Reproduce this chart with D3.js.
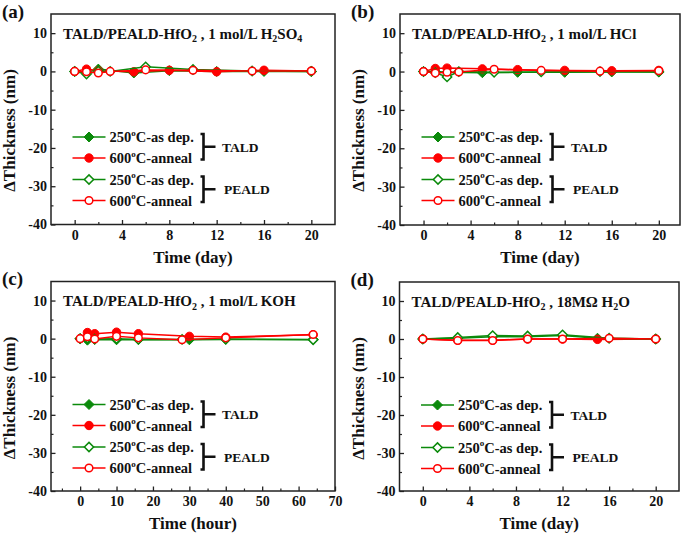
<!DOCTYPE html>
<html><head><meta charset="utf-8">
<script src="https://cdn.jsdelivr.net/npm/d3@7"></script>
<style>
body{margin:0;background:#fff;}
svg text{font-family:"Liberation Serif","Times New Roman",serif;font-weight:bold;fill:#111;}
</style></head>
<body><svg id="c" width="685" height="536"></svg>
<script>
// ---------- data ----------
const panelLabels = ["(a)", "(b)", "(c)", "(d)"];
const panelSolutions = [" , 1 mol/L H|2|SO|4|", " , 1 mol/L HCl", " , 1 mol/L KOH", " , 18M\u03A9 H|2|O"];
const xTitles = ["Time (day)", "Time (day)", "Time (hour)", "Time (day)"];
const yTicks = [10, 0, -10, -20, -30, -40];
const yMinorTicks = [5, -5, -15, -25, -35];
const xTicksDay = [0, 4, 8, 12, 16, 20];
const xMinorDay = [2, 6, 10, 14, 18];
const xTicksHour = [0, 10, 20, 30, 40, 50, 60, 70];
const xMinorHour = [-5, 5, 15, 25, 35, 45, 55, 65];
const seriesNames = ["250|o|C-as dep.", "600|o|C-anneal", "250|o|C-as dep.", "600|o|C-anneal"];
const groupNames = ["TALD", "PEALD"];

// (a) H2SO4
const aTaldT = [0, 1, 2, 5, 8, 12, 16, 20];
const aTald250 = [0, -0.3, 0.6, -0.4, 0.2, 0.0, 0.0, 0.0];
const aTald600 = [0, 0.6, 0.2, -0.1, 0.3, -0.1, 0.3, 0.1];
const aPealdT = [0, 1, 2, 3, 6, 10, 15, 20];
const aPeald250 = [0, -0.7, 0.1, 0.0, 1.2, 0.5, 0.1, 0.0];
const aPeald600 = [0, -0.1, -0.4, 0.0, 0.4, 0.3, 0.1, 0.1];
// (b) HCl
const bTaldT = [0, 1, 2, 5, 8, 12, 16, 20];
const bTald250 = [0, 0.0, -0.2, -0.3, -0.2, -0.2, -0.1, -0.1];
const bTald600 = [0, 0.8, 0.9, 0.7, 0.5, 0.3, 0.2, 0.3];
const bPealdT = [0, 1, 2, 3, 6, 10, 15, 20];
const bPeald250 = [0, -0.3, -1.4, 0.0, -0.2, -0.1, 0.0, -0.1];
const bPeald600 = [0, -0.4, -0.2, -0.1, 0.6, 0.3, 0.1, 0.2];
// (c) KOH
const cTaldT = [0, 2, 4, 10, 16, 30, 40, 64];
const cTald250 = [0, -0.4, -0.2, -0.3, -0.2, -0.3, -0.2, -0.2];
const cTald600 = [0, 1.6, 1.3, 1.7, 1.3, 0.6, 0.4, 1.0];
const cPealdT = [0, 2, 4, 10, 16, 28, 40, 64];
const cPeald250 = [0, 0.1, -0.1, 0.0, -0.2, -0.2, -0.1, -0.3];
const cPeald600 = [0, 0.5, -0.1, 0.6, 0.2, -0.3, 0.2, 1.1];
// (d) H2O
const dTaldT = [0, 3, 6, 9, 12, 15, 20];
const dTald250 = [0, 0.2, 0.6, 0.6, 0.9, 0.2, 0.0];
const dTald600 = [0, -0.3, -0.3, 0.0, 0.0, -0.1, 0.0];
const dPealdT = [0, 3, 6, 9, 12, 16, 20];
const dPeald250 = [0, 0.4, 0.9, 0.8, 1.1, 0.2, 0.0];
const dPeald600 = [0, -0.4, -0.4, 0.0, 0.0, 0.2, 0.0];

const GREEN = "#0b8a0b", RED = "#ff0000";

const panels = [
  {L:51, R:335, T:14, B:224.5, xd:[-2,22], ticks:xTicksDay, minor:xMinorDay,
   series:[[aTaldT,aTald250],[aTaldT,aTald600],[aPealdT,aPeald250],[aPealdT,aPeald600]]},
  {L:400, R:680, T:14, B:225, xd:[-2,21.8], ticks:xTicksDay, minor:xMinorDay,
   series:[[bTaldT,bTald250],[bTaldT,bTald600],[bPealdT,bPeald250],[bPealdT,bPeald600]]},
  {L:51, R:335, T:281.5, B:491, xd:[-8,70], ticks:xTicksHour, minor:xMinorHour,
   series:[[cTaldT,cTald250],[cTaldT,cTald600],[cPealdT,cPeald250],[cPealdT,cPeald600]]},
  {L:399.5, R:679, T:282, B:491, xd:[-2,22], ticks:xTicksDay, minor:xMinorDay,
   series:[[dTaldT,dTald250],[dTaldT,dTald600],[dPealdT,dPeald250],[dPealdT,dPeald600]]}
];
const styles = [
  {color:GREEN, shape:"diamond", fill:true},
  {color:RED, shape:"circle", fill:true},
  {color:GREEN, shape:"diamond", fill:false},
  {color:RED, shape:"circle", fill:false}
];

const svg = d3.select("#c");
const fmt = d => String(d);

function marker(g, x, y, st){
  let el;
  if(st.shape==="circle"){
    el = g.append("circle").attr("cx",x).attr("cy",y).attr("r", st.fill?4.2:3.8);
  } else {
    const s = st.fill?5:4.6;
    el = g.append("path").attr("d",`M${x},${y-s}L${x+s},${y}L${x},${y+s}L${x-s},${y}Z`);
  }
  el.attr("fill", st.fill?st.color:"#fff").attr("stroke", st.color).attr("stroke-width", st.fill?1:1.5);
}

panels.forEach((p, pi)=>{
  const x = d3.scaleLinear().domain(p.xd).range([p.L, p.R]);
  const y = d3.scaleLinear().domain([-40, 15]).range([p.B, p.T]);
  const g = svg.append("g");

  // minor ticks
  g.append("g").attr("transform",`translate(0,${p.B})`)
    .call(d3.axisBottom(x).tickValues(p.minor).tickSize(-2.5).tickFormat(""))
    .call(a=>{a.select(".domain").remove(); a.selectAll("line").attr("stroke","#222").attr("stroke-width",1.2);});
  g.append("g").attr("transform",`translate(${p.L},0)`)
    .call(d3.axisLeft(y).tickValues(yMinorTicks).tickSize(-2.5).tickFormat(""))
    .call(a=>{a.select(".domain").remove(); a.selectAll("line").attr("stroke","#222").attr("stroke-width",1.2);});
  // major axes
  g.append("g").attr("transform",`translate(0,${p.B})`)
    .call(d3.axisBottom(x).tickValues(p.ticks).tickSize(-4.5).tickPadding(5.5).tickFormat(fmt))
    .call(a=>{a.select(".domain").remove(); a.selectAll("line").attr("stroke","#222").attr("stroke-width",1.3);
      a.selectAll("text").attr("font-size",14).attr("font-family",null).attr("fill","#111");});
  g.append("g").attr("transform",`translate(${p.L},0)`)
    .call(d3.axisLeft(y).tickValues(yTicks).tickSize(-4.5).tickPadding(4).tickFormat(fmt))
    .call(a=>{a.select(".domain").remove(); a.selectAll("line").attr("stroke","#222").attr("stroke-width",1.3);
      a.selectAll("text").attr("font-size",14).attr("font-family",null).attr("fill","#111");});
  // frame
  g.append("rect").attr("x",p.L).attr("y",p.T).attr("width",p.R-p.L).attr("height",p.B-p.T)
    .attr("fill","none").attr("stroke","#222").attr("stroke-width",1.5);

  // series
  const line = d3.line().x(d=>x(d[0])).y(d=>y(d[1]));
  p.series.forEach((s, si)=>{
    const st = styles[si];
    const pts = s[0].map((t,i)=>[t, s[1][i]]);
    g.append("path").attr("d", line(pts)).attr("fill","none").attr("stroke",st.color).attr("stroke-width",1.5);
    pts.forEach(d=>marker(g, x(d[0]), y(d[1]), st));
  });

  // panel title
  const tt = g.append("text").attr("x", p.L+12).attr("y", p.T+24.5).attr("font-size",15);
  tt.append("tspan").text("TALD/PEALD-HfO");
  tt.append("tspan").text("2").attr("font-size",10).attr("dy",3.5);
  const segs = panelSolutions[pi].split("|");
  segs.forEach((sg, k)=>{
    if(sg==="") return;
    const ts = tt.append("tspan").text(sg);
    if(k===0) ts.attr("dy",-3.5);
    else if(k%2===1) ts.attr("font-size",10).attr("dy",3.5);
    else ts.attr("dy",-3.5);
  });

  // legend
  const lx0 = p.L+21.5, lx1 = p.L+54.5, lmx = p.L+38, ltx = p.L+58.5;
  const rows = [123, 144, 165.5, 186.5];
  styles.forEach((st, si)=>{
    const ry = p.T + rows[si];
    g.append("line").attr("x1",lx0).attr("x2",lx1).attr("y1",ry).attr("y2",ry)
      .attr("stroke",st.color).attr("stroke-width",1.6);
    marker(g, lmx, ry, st);
    const t = g.append("text").attr("x",ltx).attr("y",ry+5).attr("font-size",14.5);
    const ps = seriesNames[si].split("|");
    t.append("tspan").text(ps[0]);
    t.append("tspan").text(ps[1]).attr("font-size",9).attr("dy",-6.5);
    t.append("tspan").text(ps[2]).attr("dy",6.5);
  });
  // brackets
  [[0,1],[2,3]].forEach((pr, gi)=>{
    const top = p.T + rows[pr[0]] - 3, bot = p.T + rows[pr[1]] + 1.5, mid = (top+bot)/2;
    const bx = p.L + 152.5;
    g.append("path").attr("d",`M${bx-3},${top}L${bx},${top}L${bx},${bot}L${bx-3},${bot}M${bx},${mid}L${bx+12},${mid}`)
      .attr("fill","none").attr("stroke","#111").attr("stroke-width",2.6);
    g.append("text").attr("x", p.L + (gi===0?171:173)).attr("y", mid+5).attr("font-size",13.5).text(groupNames[gi]);
  });

  // axis titles
  g.append("text").attr("x",(p.L+p.R)/2).attr("y",p.B+38).attr("text-anchor","middle").attr("font-size",17).text(xTitles[pi]);
  const yc = p.T + 116.5, xc = p.L - 36;
  g.append("text").attr("transform",`translate(${xc},${yc}) rotate(-90)`).attr("text-anchor","middle")
    .attr("font-size",17).text("\u0394Thickness (nm)");
  // panel label
  g.append("text").attr("x", p.L - 49).attr("y", p.T + 3.5).attr("font-size",19).text(panelLabels[pi]);
});
</script></body></html>
